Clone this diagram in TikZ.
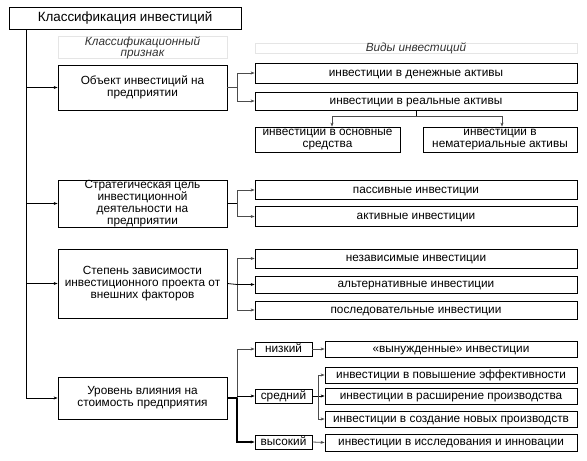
\documentclass[tikz,border=0pt]{standalone}
\usepackage{fontspec}
\setmainfont{Liberation Sans}
\usetikzlibrary{arrows.meta,calc}
\begin{document}
\begin{tikzpicture}[x=1pt,y=-1pt,
  box/.style={draw=black, line width=0.8pt, align=center, inner sep=0pt,
    font=\fontsize{11.8}{12}\selectfont},
  one/.style={box, text height=6.3pt, text depth=0pt},
  hdr/.style={draw=gray!20, line width=0.6pt, align=center, inner sep=0pt,
    font=\fontsize{11.8}{11}\selectfont\itshape, text=black!80},
  ln/.style={draw=black!70, line width=0.8pt},
  arr/.style={ln, -{Stealth[length=4pt,width=3pt]}}]
\useasboundingbox (0,0) rectangle (587,461);
\fill[white] (0,0) rectangle (587,461);
% title
\node[one, minimum width=232, minimum height=22, font=\fontsize{13.4}{14}\selectfont, text height=7pt] (title) at (125,18) {Классификация инвестиций};
% headers
\node[hdr, minimum width=169, minimum height=11] (hA) at (142.5,47.5) {Классификационный\\признак};
\node[hdr, minimum width=322, minimum height=10, text height=6.3pt, text depth=0pt] (hB) at (416,48) {Виды инвестиций};
% left boxes
\node[box, minimum width=169, minimum height=45] (b1) at (142.5,87.5) {Объект инвестиций на\\предприятии};
\node[box, minimum width=169, minimum height=47] (b2) at (142.5,203.5) {Стратегическая цель\\инвестиционной\\деятельности на\\предприятии};
\node[box, minimum width=169, minimum height=69] (b3) at (142.5,283.5) {Степень зависимости\\инвестиционного проекта от\\внешних факторов};
\node[box, minimum width=169, minimum height=42] (b4) at (142.5,398) {Уровень влияния на\\стоимость предприятия};
% right boxes
\node[one, minimum width=322, minimum height=20] (r11) at (416,73) {инвестиции в денежные активы};
\node[one, minimum width=322, minimum height=18] (r12) at (416,101) {инвестиции в реальные активы};
\node[box, minimum width=145, minimum height=25] (s1) at (327.5,139.5) {инвестиции в основные\\средства};
\node[box, minimum width=154, minimum height=25] (s2) at (500,139.5) {инвестиции в\\нематериальные активы};
\node[one, minimum width=322, minimum height=19] (r21) at (416,190) {пассивные инвестиции};
\node[one, minimum width=322, minimum height=20] (r22) at (416,216.5) {активные инвестиции};
\node[one, minimum width=322, minimum height=19] (r31) at (416,258.5) {независимые инвестиции};
\node[one, minimum width=322, minimum height=17] (r32) at (416,284.5) {альтернативные инвестиции};
\node[one, minimum width=322, minimum height=18] (r33) at (416,310) {последовательные инвестиции};
% levels
\node[one, minimum width=57, minimum height=14] (lo) at (283.5,349) {низкий};
\node[one, minimum width=57, minimum height=14] (md) at (283.5,396) {средний};
\node[one, minimum width=57, minimum height=14] (hi) at (283.5,442) {высокий};
\node[one, minimum width=252, minimum height=16] (q1) at (451,349) {«вынужденные» инвестиции};
\node[one, minimum width=252, minimum height=16] (q2) at (451,375) {инвестиции в повышение эффективности};
\node[one, minimum width=252, minimum height=16] (q3) at (451,396) {инвестиции в расширение производства};
\node[one, minimum width=252, minimum height=16] (q4) at (451,419) {инвестиции в создание новых производств};
\node[one, minimum width=252, minimum height=17] (q5) at (451,442.5) {инвестиции в исследования и инновации};
% trunk
\coordinate (tk) at (26,29);
\draw[arr, draw=black] (tk) |- (b4.west);
\draw[arr, draw=black] (tk |- b1.west) -- (b1.west);
\draw[arr, draw=black] (tk |- b2.west) -- (b2.west);
\draw[arr, draw=black] (tk |- b3.west) -- (b3.west);
% group 1
\coordinate (j1) at (237,87.5);
\draw[ln, line width=1.2pt] (b1.east) -- (j1);
\draw[arr] (j1) |- (r11.west);
\draw[arr] (j1) |- (r12.west);
\coordinate (k1) at (416,116);
\draw[ln, draw=black] (r12.south) -- (k1);
\draw[arr] (k1) -| ([xshift=4.5pt]s1.north);
\draw[arr] (k1) -| ([xshift=2pt]s2.north);
% group 2
\coordinate (j2) at (237,203.5);
\draw[ln, draw=black] (b2.east) -- (j2);
\draw[arr] (j2) |- (r21.west);
\draw[arr] (j2) |- (r22.west);
% group 3
\coordinate (j3) at (237,284.5);
\draw[ln, draw=black] (b3.east) -- (j3);
\draw[arr] (j3) |- (r31.west);
\draw[arr, draw=black] (j3) -- (r32.west);
\draw[arr] (j3) |- (r33.west);
% group 4
\coordinate (j4) at (237,398);
\draw[ln, draw=black, line width=1.2pt] (b4.east) -- (j4);
\draw[arr] (j4) |- (lo.west);
\draw[arr, draw=black] (j4 |- md.west) -- (md.west);
\draw[arr, draw=black, line width=1.1pt] (j4) |- (hi.west);
\draw[arr] (lo.east) -- (q1.west);
\draw[arr] (hi.east) -- (q5.west);
\coordinate (jm) at (318,396);
\draw[ln, draw=black] (md.east) -- (jm);
\draw[arr] (jm) |- (q2.west);
\draw[arr, draw=black] (jm) -- (q3.west);
\draw[arr] (jm) |- (q4.west);
\end{tikzpicture}
\end{document}
